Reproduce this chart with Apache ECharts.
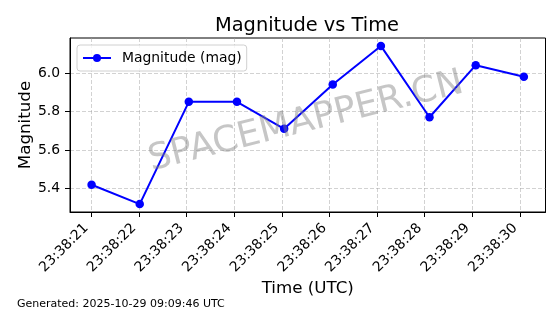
<!DOCTYPE html>
<html>
<head>
<meta charset="utf-8">
<script src="https://cdn.jsdelivr.net/npm/echarts@6/dist/echarts.min.js"></script>
<style>html,body{margin:0;padding:0;background:#fff}#c{width:560px;height:314px}</style>
</head>
<body>
<div id="c"></div>
<script>
// Data (time in seconds past 23:38)
var timeSec = [21.01, 22.02, 23.05, 24.06, 25.05, 26.07, 27.08, 28.10, 29.07, 30.08];
var magnitude = [5.42, 5.32, 5.85, 5.85, 5.71, 5.94, 6.14, 5.77, 6.04, 5.98];
var xTickValues = [21, 22, 23, 24, 25, 26, 27, 28, 29, 30];
var xTickLabels = ['23:38:21', '23:38:22', '23:38:23', '23:38:24', '23:38:25', '23:38:26', '23:38:27', '23:38:28', '23:38:29', '23:38:30'];
var yTickValues = [5.4, 5.6, 5.8, 6.0];
var yTickLabels = ['5.4', '5.6', '5.8', '6.0'];
var seriesName = 'Magnitude (mag)';
var titleText = 'Magnitude vs Time';
var xName = 'Time (UTC)';
var yName = 'Magnitude';
var footerText = 'Generated: 2025-10-29 09:09:46 UTC';
var watermark = 'SPACEMAPPER.CN';

var FONT = 'DejaVu Sans';
var points = timeSec.map(function (t, i) { return [t, magnitude[i]]; });
var gridStyle = { color: 'rgba(160,160,160,0.6)', type: [4, 2], width: 0.8 };

var chart = echarts.init(document.getElementById('c'), null, { renderer: 'canvas' });
chart.setOption({
  animation: false,
  backgroundColor: '#fff',
  textStyle: { fontFamily: FONT },
  title: {
    text: titleText,
    left: 302, top: 11,
    textAlign: 'center',
    textStyle: { fontFamily: FONT, fontSize: 19.4, fontWeight: 'normal', color: '#000' }
  },
  grid: {
    left: 70, right: 14.5, top: 38, bottom: 102,
    show: true, borderColor: '#000', borderWidth: 1, backgroundColor: 'transparent'
  },
  legend: {
    left: 77, top: 45,
    orient: 'vertical',
    data: [seriesName],
    itemWidth: 28, itemHeight: 10,
    padding: [6, 5, 6, 5],
    borderColor: '#d0d0d0', borderWidth: 1, borderRadius: 3,
    backgroundColor: 'rgba(255,255,255,0.8)',
    textStyle: { fontFamily: FONT, fontSize: 13.9, color: '#000', padding: [0, 0, 0, 6] }
  },
  xAxis: {
    type: 'value',
    min: 20.557, max: 30.534,
    name: xName, nameLocation: 'middle', nameGap: 68, nameMoveOverlap: false,
    nameTextStyle: { fontFamily: FONT, fontSize: 16.7, color: '#000' },
    axisLine: { show: true, onZero: false, lineStyle: { color: '#000', width: 1 } },
    axisTick: { show: true, length: 5, customValues: xTickValues, lineStyle: { color: '#000' } },
    axisLabel: {
      customValues: xTickValues,
      rotate: 45, margin: 9, padding: [0, 7, 0, 0],
      fontFamily: FONT, fontSize: 13.9, color: '#000',
      formatter: function (v) { var i = xTickValues.indexOf(Math.round(v)); return i >= 0 ? xTickLabels[i] : ''; }
    },
    splitLine: { show: true, customValues: xTickValues, lineStyle: gridStyle }
  },
  yAxis: {
    type: 'value',
    min: 5.279, max: 6.181,
    name: yName, nameLocation: 'middle', nameGap: 36, nameMoveOverlap: false,
    nameTextStyle: { fontFamily: FONT, fontSize: 16.7, color: '#000' },
    axisLine: { show: true, onZero: false, lineStyle: { color: '#000', width: 1 } },
    axisTick: { show: true, length: 5, customValues: yTickValues, lineStyle: { color: '#000' } },
    axisLabel: {
      customValues: yTickValues, margin: 10,
      fontFamily: FONT, fontSize: 13.9, color: '#000',
      formatter: function (v) { var i = yTickValues.indexOf(Math.round(v * 10) / 10); return i >= 0 ? yTickLabels[i] : ''; }
    },
    splitLine: { show: true, customValues: yTickValues, lineStyle: gridStyle }
  },
  series: [{
    name: seriesName,
    type: 'line',
    data: points,
    color: '#0000ff',
    lineStyle: { color: '#0000ff', width: 2 },
    itemStyle: { color: '#0000ff' },
    symbol: 'circle', symbolSize: 8.5,
    showSymbol: true,
    z: 3
  }],
  graphic: [
    {
      type: 'text', x: 306, y: 122, rotation: 14 * Math.PI / 180, z: 10,
      style: { text: watermark, fontFamily: FONT, fontSize: 36, fill: 'rgba(128,128,128,0.45)', align: 'center', verticalAlign: 'middle' }
    },
    {
      type: 'text', left: 17, top: 299,
      style: { text: footerText, fontFamily: FONT, fontSize: 11, fill: '#000' }
    }
  ]
});
</script>
</body>
</html>
